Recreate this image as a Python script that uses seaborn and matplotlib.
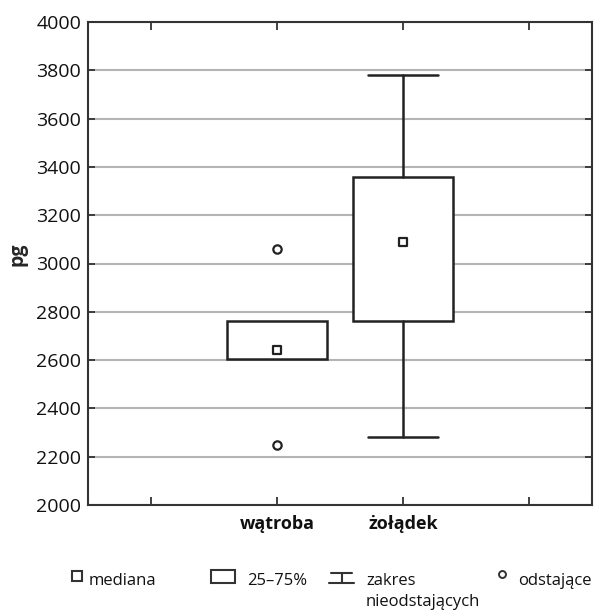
import matplotlib
matplotlib.use("Agg")
import matplotlib.pyplot as plt
import seaborn as sns
import pandas as pd
from matplotlib.lines import Line2D
from matplotlib.patches import Rectangle

# data
groups = ["wątroba", "żołądek"]
medians = [2640, 3090]
q1 = [2605, 2760]
q3 = [2760, 3360]
whis_lo = [2605, 2280]
whis_hi = [2760, 3780]
outlier_group = ["wątroba", "wątroba"]
outlier_values = [3060, 2250]
legend_labels = ["mediana", "25–75%", "zakres", "nieodstających", "odstające"]

sns.set_style("ticks")
plt.rcParams["font.family"] = ["Open Sans", "DejaVu Sans"]
plt.rcParams["text.color"] = "#111111"
plt.rcParams["xtick.color"] = "#333333"
plt.rcParams["ytick.color"] = "#333333"
plt.rcParams["xtick.labelcolor"] = "#111111"
plt.rcParams["ytick.labelcolor"] = "#111111"

W, H = 596, 610
slots = ["", "wątroba", "żołądek", ""]
pos = {g: slots.index(g) for g in groups}

fig = plt.figure(figsize=(W / 100, H / 100), dpi=100)
ax = fig.add_axes([88 / W, 1 - 505 / H, 504 / W, 483 / H])

stats = []
for i, g in enumerate(groups):
    stats.append(dict(med=medians[i], q1=q1[i], q3=q3[i],
                      whislo=whis_lo[i], whishi=whis_hi[i], fliers=[]))
# no caps where the whiskers coincide with the box
caps = [0.0 if whis_lo[i] == q1[i] and whis_hi[i] == q3[i] else 0.56
        for i in range(len(groups))]
ax.bxp(stats, positions=[pos[g] for g in groups], widths=0.8,
       showfliers=False, patch_artist=True,
       boxprops=dict(facecolor="white", edgecolor="#222222", linewidth=1.8),
       whiskerprops=dict(color="#222222", linewidth=1.8),
       capprops=dict(color="#222222", linewidth=1.8),
       capwidths=caps,
       medianprops=dict(visible=False), zorder=3)

med_df = pd.DataFrame({"x": [pos[g] for g in groups], "y": medians})
sns.scatterplot(data=med_df, x="x", y="y", marker="s", s=40, color="white",
                edgecolor="#222222", linewidth=1.6, ax=ax, zorder=4, legend=False)

out_df = pd.DataFrame({"x": [pos[g] for g in outlier_group], "y": outlier_values})
sns.scatterplot(data=out_df, x="x", y="y", marker="o", s=36, color="white",
                edgecolor="#222222", linewidth=1.6, ax=ax, zorder=4, legend=False)

ax.set_xlim(-0.5, 3.5)
ax.set_ylim(2000, 4000)
ax.set_yticks(range(2000, 4001, 200))
ax.set_xticks(range(4))
ax.set_xticklabels(slots, fontsize=13, fontweight="bold")
ax.tick_params(axis="y", labelsize=14, direction="in", length=5, width=1.3,
               right=True, pad=5)
ax.tick_params(axis="x", direction="in", length=6, width=1.3, top=True, pad=7)
ax.yaxis.grid(True, color="#b4b4b4", linewidth=1.5)
ax.set_axisbelow(True)
for sp in ax.spines.values():
    sp.set_visible(True)
    sp.set_color("#333333")
    sp.set_linewidth(1.5)
ax.set_xlabel("")
ax.set_ylabel("pg", fontsize=14, fontweight="bold")
ax.yaxis.set_label_coords(-0.12, 0.52)


def fx(px):
    return px / W


def fy(py):
    return 1 - py / H


# legend drawn by hand, placed like the reference
kw = dict(transform=fig.transFigure, figure=fig)
fig.add_artist(Line2D([fx(77)], [fy(576)], marker="s", markersize=6.5,
                      markerfacecolor="white", markeredgecolor="#333333",
                      markeredgewidth=1.5, linestyle="none", **kw))
fig.add_artist(Rectangle((fx(211), fy(583)), fx(235) - fx(211), fy(570) - fy(583),
                         facecolor="white", edgecolor="#333333", linewidth=1.5, **kw))
for x0, x1, y in [(331, 352, 573), (329, 354, 583)]:
    fig.add_artist(Line2D([fx(x0), fx(x1)], [fy(y), fy(y)], color="#333333",
                          linewidth=1.5, **kw))
fig.add_artist(Line2D([fx(341.5), fx(341.5)], [fy(573), fy(583)], color="#333333",
                      linewidth=1.5, **kw))
fig.add_artist(Line2D([fx(502)], [fy(574)], marker="o", markersize=5,
                      markerfacecolor="white", markeredgecolor="#333333",
                      markeredgewidth=1.4, linestyle="none", **kw))

tkw = dict(fontsize=12, va="baseline", ha="left")
fig.text(fx(89), fy(585), legend_labels[0], **tkw)
fig.text(fx(247), fy(585), legend_labels[1], **tkw)
fig.text(fx(366), fy(585), legend_labels[2], **tkw)
fig.text(fx(366), fy(606), legend_labels[3], **tkw)
fig.text(fx(518), fy(585), legend_labels[4], **tkw)

fig.savefig("out.png", dpi=100, facecolor="white")
